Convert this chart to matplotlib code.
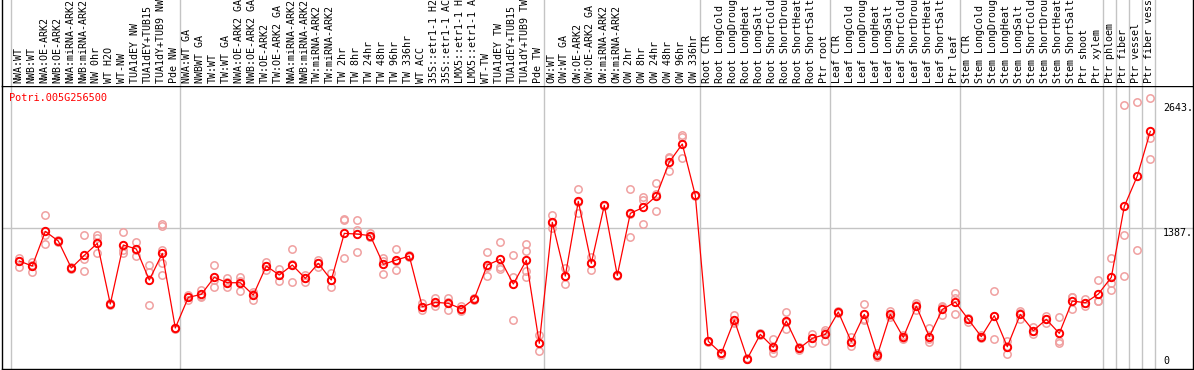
import matplotlib
matplotlib.use("Agg")
import matplotlib.pyplot as plt
import matplotlib.transforms as mtransforms

GENE = "Potri.005G256500"

SAMPLES = [
    "NWA:WT", "NWB:WT", "NWA:OE-ARK2", "NWB:OE-ARK2", "NWA:miRNA-ARK2", "NWB:miRNA-ARK2",
    "NW 0hr", "WT H2O", "WT-NW", "TUA1dEY NW", "TUA1dEY+TUB15", "TUA1dY+TUB9 NW", "Pde NW",
    "NWA:WT GA", "NWBWT GA", "TW:WT", "TW:WT GA", "NWA:OE-ARK2 GA", "NWB:OE-ARK2 GA",
    "TW:OE-ARK2", "TW:OE-ARK2 GA", "NWA:miRNA-ARK2", "NWB:miRNA-ARK2", "TW:miRNA-ARK2",
    "TW:miRNA-ARK2", "TW 2hr", "TW 8hr", "TW 24hr", "TW 48hr", "TW 96hr", "TW 336hr",
    "WT ACC", "35S::etr1-1 H2", "35S::etr1-1 AC", "LMX5::etr1-1 H", "LMX5::etr1-1 A",
    "WT-TW", "TUA1dEY TW", "TUA1dEY+TUB15", "TUA1dY+TUB9 TW", "Pde TW",
    "OW:WT", "OW:WT GA", "OW:OE-ARK2", "OW:OE-ARK2 GA", "OW:miRNA-ARK2", "OW:miRNA-ARK2",
    "OW 2hr", "OW 8hr", "OW 24hr", "OW 48hr", "OW 96hr", "OW 336hr",
    "Root CTR", "Root LongCold", "Root LongDroug", "Root LongHeat", "Root LongSalt",
    "Root ShortCold", "Root ShortDrou", "Root ShortHeat", "Root ShortSalt", "Ptr root",
    "Leaf CTR", "Leaf LongCold", "Leaf LongDroug", "Leaf LongHeat", "Leaf LongSalt",
    "Leaf ShortCold", "Leaf ShortDrou", "Leaf ShortHeat", "Leaf ShortSalt", "Ptr leaf",
    "Stem CTR", "Stem LongCold", "Stem LongDroug", "Stem LongHeat", "Stem LongSalt",
    "Stem ShortCold", "Stem ShortDrou", "Stem ShortHeat", "Stem ShortSalt", "Ptr shoot",
    "Ptr xylem", "Ptr phloem", "Ptr fiber", "Ptr vessel", "Ptr fiber vess",
]

MEANS = [
    1058, 1008, 1356, 1259, 988, 1115, 1236, 626, 1219, 1179, 867, 1135, 385,
    693, 723, 894, 840, 840, 716, 1008, 917, 1018, 884, 1035, 867, 1336, 1329, 1313,
    1025, 1068, 1108, 599, 643, 633, 579, 680, 1018, 1075, 827, 1065, 231,
    1447, 907, 1658, 1035, 1617, 914, 1537, 1597, 1711, 2053, 2234, 1718,
    251, 130, 465, 77, 321, 191, 455, 181, 281, 321,
    546, 247, 522, 110, 522, 291, 606, 298, 572, 646,
    472, 298, 509, 197, 522, 358, 472, 331, 656, 639, 726,
    894, 1607, 1912, 2361,
]

REPLICATES = [
    [1085, 1060, 1001], [1051, 1020, 951], [1517, 1322, 1229], [1270, 1259, 1248],
    [995, 988, 980], [1319, 1081, 958], [1319, 1286, 1135], [635, 626, 618],
    [1349, 1165, 1143], [1252, 1173, 1112], [1018, 951, 616], [1427, 1410, 1169, 1035, 917],
    [390, 385, 380],
    [716, 697, 666], [767, 705, 700], [1018, 870, 793], [884, 843, 793], [901, 860, 760],
    [750, 730, 666], [1051, 1005, 968], [974, 917, 860], [1179, 1030, 844], [917, 884, 850],
    [1068, 1040, 994], [941, 867, 793], [1485, 1470, 1085], [1470, 1365, 1152],
    [1336, 1303, 1300], [1092, 1055, 927], [1179, 1060, 968], [1120, 1108, 1095],
    [633, 600, 566], [683, 640, 606], [683, 650, 566], [606, 570, 560], [690, 680, 670],
    [1145, 1000, 907], [1246, 1001, 980], [1118, 894, 465], [1229, 1162, 960, 901],
    [315, 230, 150],
    [1517, 1440, 1386], [984, 910, 824], [1782, 1655, 1537], [1102, 1040, 964],
    [1625, 1617, 1610], [920, 914, 908], [1782, 1530, 1299], [1698, 1671, 1427],
    [1838, 1730, 1560], [2106, 2090, 1962], [2324, 2307, 2090], [1725, 1718, 1710],
    [255, 251, 247], [135, 130, 113], [515, 450, 432], [80, 77, 74], [330, 321, 312],
    [271, 175, 130], [546, 450, 371], [198, 181, 164], [321, 285, 237], [365, 340, 258],
    [555, 546, 537], [298, 240, 204], [623, 472, 470], [130, 103, 97], [556, 511, 499],
    [315, 287, 271], [639, 613, 566], [382, 271, 241], [606, 595, 515], [733, 683, 522],
    [489, 479, 448], [315, 298, 281], [753, 503, 271], [258, 209, 124], [556, 538, 472],
    [392, 357, 325], [505, 473, 438], [499, 258, 237], [700, 695, 573], [673, 638, 606],
    [864, 659, 656],
    [1085, 834, 767], [2626, 1316, 904], [2652, 1165], [2696, 2297, 2080],
]

# index of the last sample in each block (gray separators follow them)
GROUP_ENDS = [-1, 12, 40, 52, 62, 72, 83, 84, 85, 86, 87]

Y_TICKS = [0, 1387, 2643]
Y_TICK_LABELS = ["0", "1387.", "2643."]

W, H = 1194, 370
MONO = "DejaVu Sans Mono"
GRAY = "#c4c4c4"

fig = plt.figure(figsize=(W / 100, H / 100), dpi=100)
left_px, right_px = 2, 1192.5
top_px, bot_px = 85.5, 369
ax = fig.add_axes([left_px / W, 1 - bot_px / H, (right_px - left_px) / W, (bot_px - top_px) / H])
hax = fig.add_axes([left_px / W, 1 - top_px / H, (right_px - left_px) / W, top_px / H])

x0, dx = 19.3, 13.0
xlim = ((left_px - x0) / dx, (right_px - x0) / dx)
for a in (ax, hax):
    a.set_xlim(*xlim)
    a.set_xticks([])
    a.set_yticks([])
    for g in GROUP_ENDS:
        a.axvline(g + 0.38, color=GRAY, lw=1.0, zorder=0)

ax.set_ylim(-27, 2822)
ax.axhline(1387, color=GRAY, lw=1.0, zorder=0)
for s in ax.spines.values():
    s.set_color("black")
    s.set_linewidth(1.0)
hax.set_ylim(0, 1)
hax.spines["top"].set_visible(False)
hax.spines["bottom"].set_visible(False)
for s in ("left", "right"):
    hax.spines[s].set_linewidth(1.0)

# sample names, rotated, clipped at the top of the header
for i, name in enumerate(SAMPLES):
    hax.text(i - 0.1, 0.03, name, rotation=90, ha="center", va="bottom",
             family=MONO, fontsize=7.2, color="black", clip_on=True)

# replicates
rx, ry = [], []
for i, reps in enumerate(REPLICATES):
    rx += [i] * len(reps)
    ry += reps
ax.plot(rx, ry, "o", ls="none", mfc="none", mec="#f0a0a0", ms=5.3, mew=1.1, zorder=2)

# mean profile
ax.plot(range(len(MEANS)), MEANS, "-", color="red", lw=0.9, marker="o",
        mfc="none", mec="red", ms=5.3, mew=1.4, zorder=3)

ax.text((9.3 - left_px) / (right_px - left_px), 0.975, GENE, transform=ax.transAxes,
        ha="left", va="top", family=MONO, fontsize=7.4, color="red")

tx = (1163 - left_px) / (right_px - left_px)
ytrans = mtransforms.blended_transform_factory(ax.transAxes, ax.transData)
for v, lab in zip(Y_TICKS, Y_TICK_LABELS):
    ax.text(tx, v, lab, transform=ytrans, ha="left",
            va="bottom" if v == 0 else "top", family=MONO, fontsize=7.2, color="black")

fig.savefig("out.png", dpi=100)
